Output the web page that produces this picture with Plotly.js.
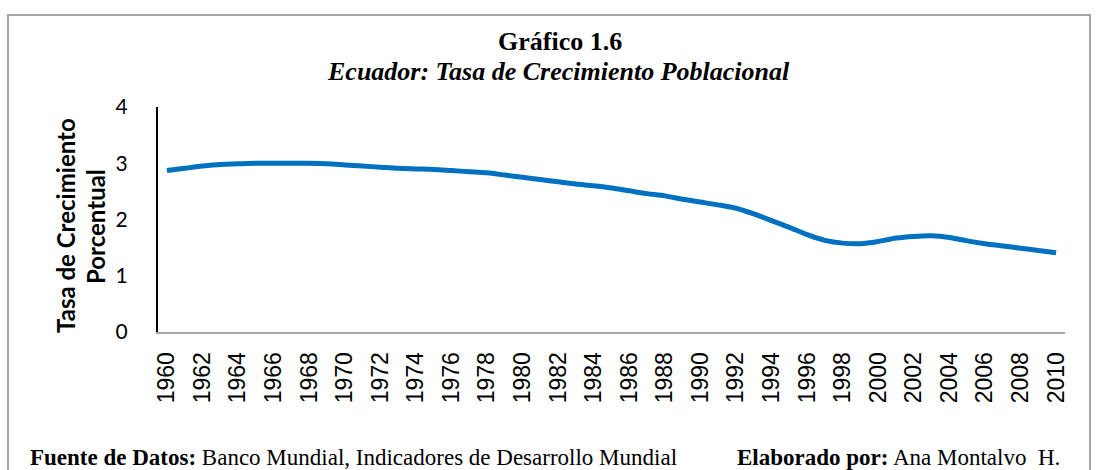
<!DOCTYPE html>
<html>
<head>
<meta charset="utf-8">
<script src="https://cdn.plot.ly/plotly-3.0.1.min.js"></script>
<style>
  html, body { margin: 0; padding: 0; background: #ffffff; }
  #chart { width: 1097px; height: 470px; }
</style>
</head>
<body>
<div id="chart"></div>
<script>
// Years (categories)
const years = [
  1960,1961,1962,1963,1964,1965,1966,1967,1968,1969,
  1970,1971,1972,1973,1974,1975,1976,1977,1978,1979,
  1980,1981,1982,1983,1984,1985,1986,1987,1988,1989,
  1990,1991,1992,1993,1994,1995,1996,1997,1998,1999,
  2000,2001,2002,2003,2004,2005,2006,2007,2008,2009,2010
];
// Tasa de crecimiento poblacional (%)
const growthRate = [
  2.87,2.91,2.95,2.98,2.99,3.00,3.00,3.00,3.00,2.99,
  2.97,2.95,2.93,2.91,2.90,2.89,2.87,2.85,2.83,2.79,
  2.75,2.71,2.67,2.63,2.60,2.56,2.51,2.46,2.42,2.36,
  2.31,2.26,2.20,2.10,1.98,1.86,1.73,1.63,1.58,1.57,
  1.61,1.67,1.70,1.71,1.68,1.62,1.57,1.53,1.49,1.45,1.41
];
const xTickVals = [1960,1962,1964,1966,1968,1970,1972,1974,1976,1978,1980,1982,1984,1986,1988,1990,1992,1994,1996,1998,2000,2002,2004,2006,2008,2010];
const xTickText = xTickVals.map(String);
const yTickVals = [0,1,2,3,4];

const titleText = "<b>Gráfico 1.6</b>";
const subtitleText = "<b><i>Ecuador: Tasa de Crecimiento Poblacional</i></b>";
const yTitleLine1 = "<b>Tasa de Crecimiento</b>";
const yTitleLine2 = "<b>Porcentual</b>";
const sourceText = "<b>Fuente de Datos:</b> Banco Mundial, Indicadores de Desarrollo Mundial";
const authorText = "<b>Elaborado por:</b> Ana Montalvo  H.";

const W = 1097, H = 470;
const L = 158, R = 32, T = 107, B = 138;
const pw = W - L - R, ph = H - T - B;
const px = v => (v - L) / pw;          // pixel x -> paper x
const py = v => (H - B - v) / ph;      // pixel y -> paper y

const trace = {
  x: years,
  y: growthRate,
  type: 'scatter',
  mode: 'lines',
  line: { color: '#0070C0', width: 5, shape: 'spline', smoothing: 0.8 },
  hoverinfo: 'x+y'
};

const serif = '"Liberation Serif", "Times New Roman", serif';
const sans = 'Lato, "Liberation Sans", sans-serif';

const layout = {
  width: W, height: H,
  margin: { l: L, r: R, t: T, b: B, pad: 0 },
  paper_bgcolor: '#ffffff',
  plot_bgcolor: '#ffffff',
  showlegend: false,
  xaxis: {
    range: [1959.5, 2010.5],
    tickmode: 'array',
    tickvals: xTickVals,
    ticktext: xTickText,
    tickangle: -90,
    tickfont: { family: '"Liberation Sans", Arial, sans-serif', size: 23, color: '#000000' },
    showgrid: false,
    zeroline: false,
    showline: true,
    linecolor: '#a6a6a6',
    linewidth: 2,
    ticks: '',
    ticklabelstandoff: 9,
    fixedrange: true
  },
  yaxis: {
    range: [0, 4],
    tickmode: 'array',
    tickvals: yTickVals,
    tickfont: { family: sans, size: 21, color: '#000000' },
    showgrid: false,
    zeroline: false,
    showline: true,
    linecolor: '#000000',
    linewidth: 2,
    ticks: '',
    ticklabelstandoff: 24,
    fixedrange: true
  },
  shapes: [
    {
      type: 'rect', xref: 'paper', yref: 'paper',
      x0: px(8), x1: px(1090), y0: py(490), y1: py(15),
      line: { color: '#a6a6a6', width: 2 },
      fillcolor: 'rgba(0,0,0,0)',
      layer: 'below'
    }
  ],
  annotations: [
    { text: titleText, xref: 'paper', yref: 'paper', x: px(560), y: py(41),
      xanchor: 'center', yanchor: 'middle', showarrow: false,
      font: { family: serif, size: 26, color: '#000000' } },
    { text: subtitleText, xref: 'paper', yref: 'paper', x: px(558), y: py(71),
      xanchor: 'center', yanchor: 'middle', showarrow: false,
      font: { family: serif, size: 26, color: '#000000' } },
    { text: yTitleLine1, xref: 'paper', yref: 'paper', x: px(65), y: py(226),
      xanchor: 'center', yanchor: 'middle', showarrow: false, textangle: -90,
      font: { family: sans, size: 24, color: '#000000' } },
    { text: yTitleLine2, xref: 'paper', yref: 'paper', x: px(95), y: py(227),
      xanchor: 'center', yanchor: 'middle', showarrow: false, textangle: -90,
      font: { family: sans, size: 24, color: '#000000' } },
    { text: sourceText, xref: 'paper', yref: 'paper', x: px(28), y: py(457),
      xanchor: 'left', yanchor: 'middle', showarrow: false,
      font: { family: serif, size: 23, color: '#000000' } },
    { text: authorText, xref: 'paper', yref: 'paper', x: px(735), y: py(457),
      xanchor: 'left', yanchor: 'middle', showarrow: false,
      font: { family: serif, size: 23, color: '#000000' } }
  ]
};

Plotly.newPlot('chart', [trace], layout, { displayModeBar: false, staticPlot: true });
</script>
</body>
</html>
